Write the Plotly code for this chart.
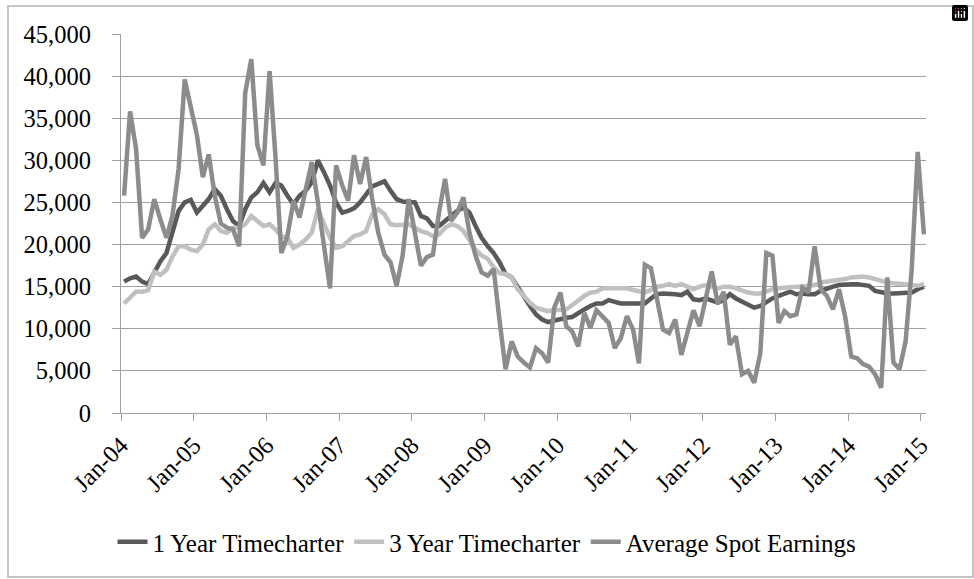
import pandas as pd
import plotly.graph_objects as go

months = pd.date_range("2004-01-01", periods=133, freq="MS")

one_year = [
    15600, 16000, 16200, 15600, 15300, 16600, 18000, 19000, 21400, 24000, 25000, 25300,
    23800, 24700, 25400, 26600, 25800, 24200, 22800, 22200, 24200, 25600, 26200, 27300,
    26200, 27300, 27000, 25800, 24800, 25800, 26400, 27400, 30000, 28600, 27000, 25000,
    23800, 24000, 24300, 25000, 26000, 26900, 27200, 27500, 26400, 25400, 25100, 25100,
    25000, 23400, 23100, 22200, 22200, 22800, 23400, 24000, 24400, 23800, 22200, 20800,
    19800, 19000, 17900, 16500, 16100, 14900, 13700, 12700, 11700, 11100, 10800, 11000,
    11200, 11300, 11400, 11900, 12300, 12700, 13000, 13000, 13400, 13200, 13000, 13000,
    13000, 13000, 13000, 13600, 14100, 14200, 14200, 14100, 14000, 14400, 13500, 13400,
    13600, 13400, 13100, 13400, 14100, 13600, 13200, 12800, 12500, 12700, 13200, 13600,
    13900, 14200, 14400, 14100, 14200, 14100, 14100, 14500, 14800, 15000, 15200, 15300,
    15300, 15300, 15200, 15100, 14500, 14300, 14200, 14200, 14200, 14200, 14300, 14700,
    15000,
]

three_year = [
    13000, 13800, 14400, 14400, 14600, 16800, 16400, 17000, 18600, 19800, 19800, 19400,
    19200, 20000, 21800, 22400, 21600, 21400, 22000, 22000, 22400, 23400, 22800, 22200,
    22400, 21800, 21000, 20800, 19600, 20000, 20600, 21400, 24200, 22600, 20800, 19600,
    19800, 20400, 21000, 21200, 21600, 23600, 24200, 23600, 22400, 22300, 22300, 22400,
    22000, 21600, 21400, 21000, 21200, 22000, 22400, 22200, 21600, 20600, 19400, 18700,
    18300, 17300, 16600, 16500, 16100, 14700, 13900, 13100, 12500, 12300, 12100, 12200,
    12300, 12300, 12800, 13400, 13900, 14300, 14400, 14800, 14800, 14800, 14800, 14800,
    14600, 14400, 14300, 14600, 15000, 15100, 15300, 15100, 15300, 15000, 14700, 15000,
    15200, 15000, 14800, 15000, 15000, 14800, 14500, 14300, 14200, 14200, 14400, 14700,
    14800, 14900, 14900, 15000, 15000, 15100, 15200, 15500, 15600, 15700, 15700, 15900,
    16100, 16200, 16200, 16100, 15900, 15600, 15500, 15400, 15400, 15300, 15200, 15100,
    15300,
]

spot = [
    25800, 35800, 31400, 20800, 21800, 25400, 23000, 20800, 23500, 29000, 39600, 36500,
    33000, 28000, 30700, 25800, 22500, 22000, 21800, 19800, 38000, 42000, 31800, 29400,
    40600, 30400, 19000, 21000, 25200, 23200, 26600, 29800, 25000, 19800, 14800, 29400,
    27000, 25200, 30600, 27200, 30400, 25400, 21400, 18800, 17900, 15100, 18700, 25400,
    21400, 17500, 18500, 18800, 23800, 27800, 22800, 23800, 25600, 21400, 18700, 16700,
    16300, 17100, 11000, 5200, 8500, 6700, 6000, 5400, 7700, 7100, 6000, 12500,
    14300, 10300, 9700, 7900, 11900, 10100, 12200, 11500, 10700, 7700, 8900, 11500,
    9900, 5900, 17600, 17200, 13800, 9900, 9500, 11100, 6900, 9500, 12200, 10300,
    13400, 16800, 13000, 14400, 8100, 9100, 4600, 5000, 3600, 7100, 19000, 18700,
    10700, 12100, 11500, 11700, 14900, 14300, 19800, 14700, 13900, 12300, 14700, 11500,
    6700, 6500, 5800, 5500, 4600, 3000, 16100, 6000, 5200, 8500, 17000, 31000,
    21200,
]

series_names = ["1 Year Timecharter", "3 Year Timecharter", "Average Spot Earnings"]
series_values = [one_year, three_year, spot]
series_colors = ["#595959", "#c0c0c0", "#8c8c8c"]

W, H = 974, 579
ML, MR, MT, MB = 121, 48, 34, 166
PW, PH = W - ML - MR, H - MT - MB

fig = go.Figure()
for name, vals, col in zip(series_names, series_values, series_colors):
    fig.add_trace(go.Scatter(
        x=months, y=vals, name=name, mode="lines",
        xperiod="M1", xperiodalignment="middle",
        line=dict(color=col, width=4.5),
    ))

def px_x(p):
    return (p - ML) / PW

def px_y(p):
    return (H - MB - p) / PH

fig.add_shape(type="rect", xref="paper", yref="paper",
              x0=px_x(8), x1=px_x(973), y0=px_y(577), y1=px_y(6),
              line=dict(color="#b3b3b3", width=1.5), fillcolor="rgba(0,0,0,0)",
              layer="above")

fig.update_layout(
    width=W, height=H,
    margin=dict(l=ML, r=MR, t=MT, b=MB, pad=0, autoexpand=False),
    paper_bgcolor="white", plot_bgcolor="white",
    font=dict(family="Liberation Serif", color="black"),
    modebar=dict(bgcolor="rgba(0,0,0,0)", color="rgba(0,0,0,0)",
                 activecolor="rgba(0,0,0,0)"),
    showlegend=True,
    legend=dict(orientation="h", xref="container", yref="container",
                x=0.5, xanchor="center", y=(H - 542) / H, yanchor="middle",
                font=dict(family="serif", size=25),
                itemwidth=30, tracegroupgap=0, bgcolor="rgba(0,0,0,0)"),
    xaxis=dict(
        type="date", automargin=False,
        range=["2004-01-01", "2015-01-27"],
        tick0="2004-01-01", dtick="M12", tickformat="%b-%y",
        tickangle=-45, ticks="outside", ticklen=7, tickwidth=1.3,
        tickcolor="#a0a0a0",
        showgrid=False, showline=True, linecolor="#a0a0a0", linewidth=1.3,
        zeroline=False,
        tickfont=dict(family="Liberation Serif", size=24.5),
    ),
    yaxis=dict(
        automargin=False,
        range=[0, 45000], dtick=5000, tickformat=",",
        ticks="outside", ticklen=8, tickwidth=1.3, tickcolor="#a0a0a0",
        showgrid=True, gridcolor="#a0a0a0", gridwidth=1.3,
        showline=True, linecolor="#a0a0a0", linewidth=1.3,
        zeroline=False, ticklabelstandoff=16,
        tickfont=dict(family="serif", size=24.5),
    ),
)

fig.write_html("out.html", post_script="document.body.style.margin='0';")
